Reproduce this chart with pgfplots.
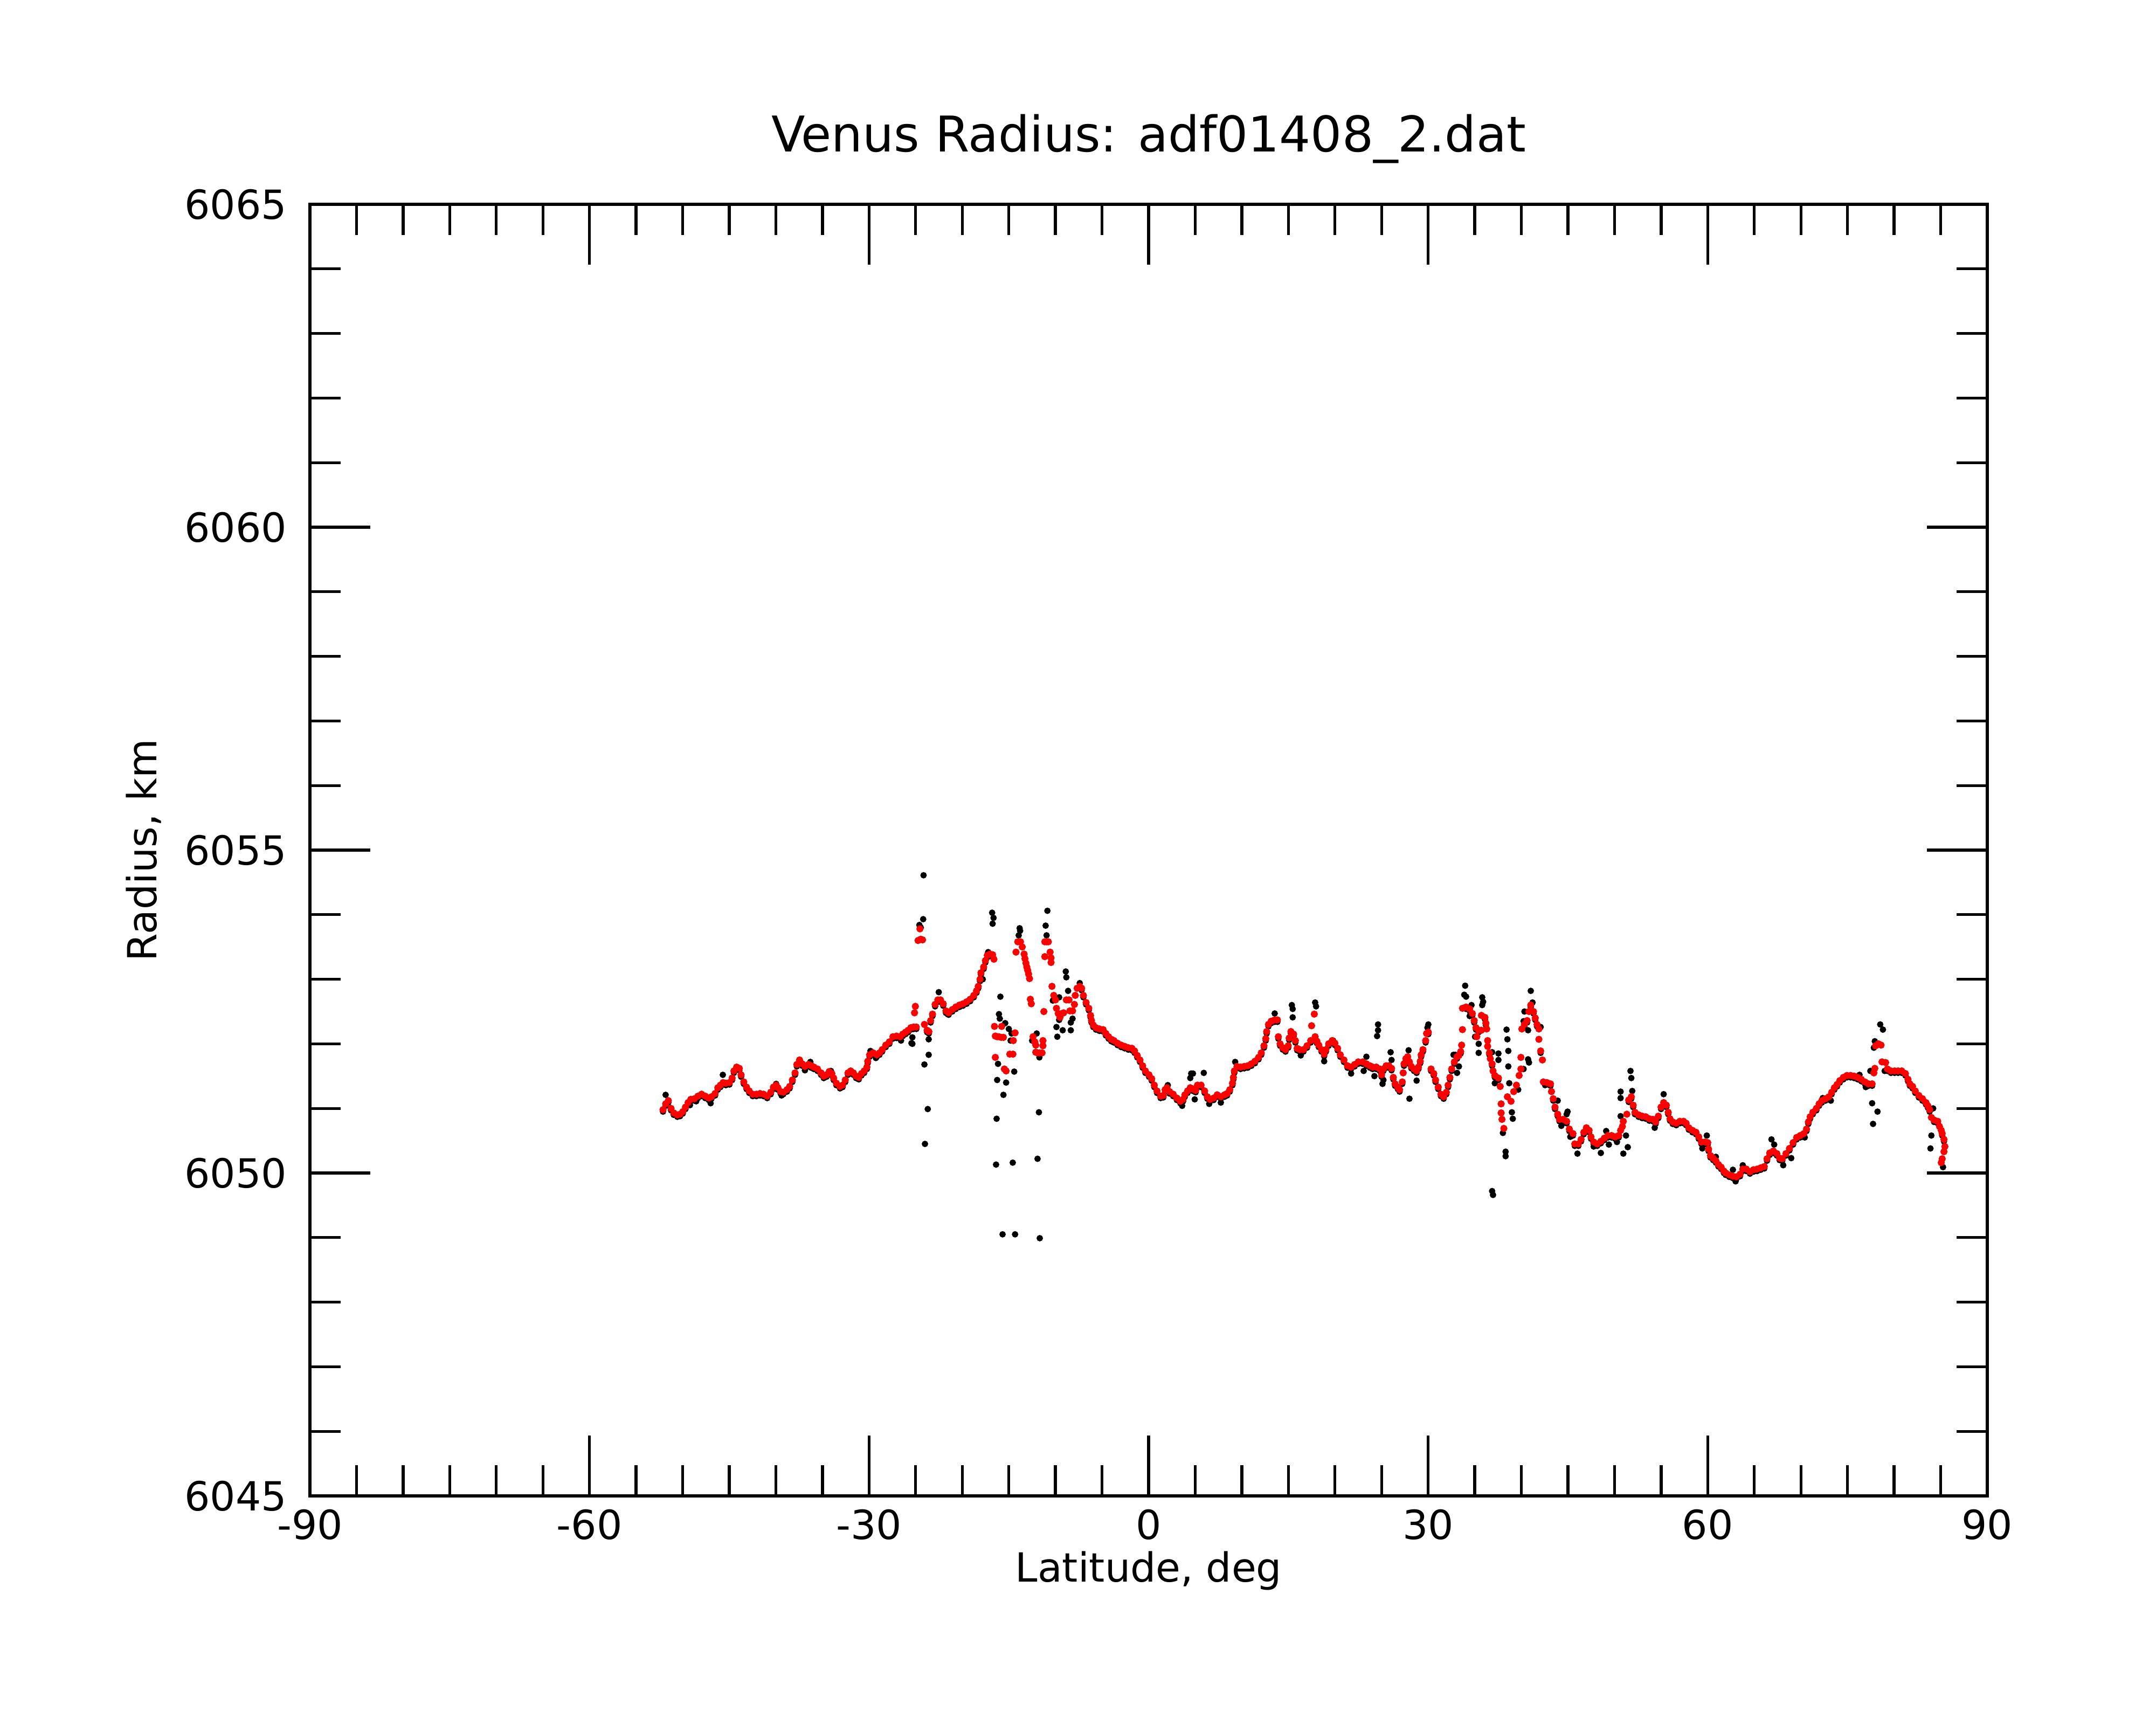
\documentclass[border=0pt]{standalone}
\usepackage{fontspec}
\setmainfont{DejaVu Sans}
\usepackage{pgfplots}
\pgfplotsset{compat=1.18}
\begin{document}
\begin{tikzpicture}
\useasboundingbox (-2.875,-2.125) rectangle (17.125,13.875);
\begin{axis}[
  at={(0,0)}, anchor=south west,
  width=15.56cm, height=11.98cm, scale only axis,
  xmin=-90, xmax=90, ymin=6045, ymax=6065,
  xtick={-90,-60,-30,0,30,60,90},
  xticklabels={-90,-60,-30,0,30,60,90},
  ytick={6045,6050,6055,6060,6065},
  yticklabels={6045,6050,6055,6060,6065},
  minor x tick num=5, minor y tick num=4,
  tick align=inside,
  major tick length=0.56cm, minor tick length=0.285cm,
  axis line style={line width=0.8pt, black},
  every tick/.style={black, line width=0.75pt},
  tick label style={font=\fontsize{10.6}{12}\selectfont},
  yticklabel style={xshift=-0.09cm},
]
\addplot[only marks, mark=*, mark size=0.64pt, black, mark options={draw=none, fill=black}] table[x=x,y=y] {
x y
-52.11 6050.95
-51.83 6051.04
-51.54 6051.09
-51.25 6050.97
-50.96 6050.90
-50.57 6050.87
-50.28 6050.88
-49.99 6050.92
-49.70 6050.99
-49.42 6051.06
-49.13 6051.11
-48.74 6051.12
-48.36 6051.16
-47.97 6051.19
-47.58 6051.16
-47.20 6051.13
-46.91 6051.15
-46.52 6051.20
-46.23 6051.29
-45.95 6051.33
-45.66 6051.37
-45.37 6051.36
-44.98 6051.37
-44.69 6051.44
-44.50 6051.55
-44.21 6051.61
-43.92 6051.59
-43.73 6051.49
-43.44 6051.38
-43.15 6051.30
-42.86 6051.24
-42.48 6051.19
-42.09 6051.19
-41.70 6051.20
-41.32 6051.19
-40.93 6051.16
-40.55 6051.22
-40.26 6051.30
-39.97 6051.33
-39.78 6051.29
-39.49 6051.23
-39.20 6051.22
-38.81 6051.26
-38.52 6051.31
-38.23 6051.41
-37.94 6051.52
-37.75 6051.65
-37.46 6051.72
-37.17 6051.66
-36.88 6051.62
-36.50 6051.65
-36.21 6051.63
-35.92 6051.61
-35.53 6051.58
-35.15 6051.52
-34.86 6051.47
-34.57 6051.49
-34.28 6051.54
-33.99 6051.51
-33.80 6051.44
-33.51 6051.36
-33.12 6051.31
-32.84 6051.33
-32.55 6051.41
-32.26 6051.52
-31.97 6051.55
-31.68 6051.52
-31.39 6051.47
-31.10 6051.45
-30.81 6051.51
-30.52 6051.55
-30.23 6051.61
-30.14 6051.70
-29.94 6051.80
-29.56 6051.83
-29.17 6051.80
-28.88 6051.83
-28.59 6051.88
-28.21 6051.95
-27.82 6052.00
-27.44 6052.08
-27.05 6052.09
-26.67 6052.08
-26.38 6052.12
-26.09 6052.15
-25.80 6052.18
-25.51 6052.22
-25.22 6052.23
-24.93 6052.23
-23.77 6052.18
-23.58 6052.16
-23.39 6052.33
-23.19 6052.43
-22.91 6052.58
-22.62 6052.65
-22.33 6052.65
-22.04 6052.59
-21.75 6052.48
-21.46 6052.45
-21.07 6052.50
-20.69 6052.54
-20.30 6052.57
-19.92 6052.59
-19.53 6052.62
-19.15 6052.66
-18.76 6052.72
-18.47 6052.79
-18.28 6052.86
-18.09 6052.97
-17.99 6053.07
-17.70 6053.16
-17.51 6053.26
-17.31 6053.34
-17.02 6053.36
-16.74 6053.35
-7.39 6052.86
-7.19 6052.83
-7.00 6052.72
-6.71 6052.61
-6.42 6052.52
-6.23 6052.41
-6.13 6052.33
-5.94 6052.26
-5.65 6052.22
-5.27 6052.20
-4.88 6052.19
-4.59 6052.13
-4.30 6052.08
-4.01 6052.04
-3.72 6052.02
-3.34 6051.98
-2.95 6051.95
-2.57 6051.93
-2.18 6051.91
-1.79 6051.90
-1.51 6051.86
-1.22 6051.79
-0.93 6051.72
-0.64 6051.63
-0.35 6051.55
0.04 6051.49
0.33 6051.43
0.61 6051.33
0.90 6051.24
1.29 6051.16
1.58 6051.17
1.77 6051.26
1.96 6051.29
2.25 6051.23
2.64 6051.19
3.03 6051.13
3.41 6051.08
3.70 6051.11
3.89 6051.18
4.18 6051.24
4.47 6051.29
4.76 6051.27
5.05 6051.25
5.24 6051.33
5.63 6051.33
6.01 6051.24
6.30 6051.15
6.59 6051.11
6.98 6051.13
7.36 6051.18
7.75 6051.15
8.14 6051.18
8.42 6051.20
8.71 6051.26
9.00 6051.36
9.10 6051.45
9.20 6051.55
9.48 6051.62
9.87 6051.61
10.26 6051.62
10.64 6051.63
11.03 6051.66
11.41 6051.70
11.80 6051.76
12.09 6051.83
12.38 6051.94
12.57 6052.05
12.67 6052.16
12.86 6052.27
13.15 6052.32
13.53 6052.34
13.82 6052.34
13.92 6052.08
14.11 6051.97
14.40 6051.91
14.69 6051.88
14.98 6051.94
15.08 6052.06
15.27 6052.16
15.56 6052.12
15.75 6052.02
15.94 6051.90
16.23 6051.88
16.62 6051.88
17.00 6051.94
17.39 6052.02
17.87 6052.08
18.06 6052.01
18.26 6051.95
18.55 6051.88
18.84 6051.81
19.03 6051.88
19.32 6051.97
19.70 6052.02
19.99 6051.98
20.28 6051.90
20.57 6051.80
20.96 6051.72
21.34 6051.63
21.73 6051.61
22.11 6051.65
22.50 6051.69
22.98 6051.69
23.37 6051.66
23.75 6051.63
24.04 6051.61
24.43 6051.61
24.81 6051.58
25.00 6051.49
25.20 6051.58
25.49 6051.63
25.78 6051.63
26.07 6051.59
26.26 6051.45
26.45 6051.35
26.74 6051.30
26.93 6051.26
27.22 6051.38
27.41 6051.66
27.61 6051.74
27.80 6051.77
27.99 6051.69
28.19 6051.62
28.48 6051.58
28.76 6051.55
28.96 6051.61
29.15 6051.70
29.25 6051.80
29.44 6051.88
29.73 6052.02
30.02 6052.15
30.31 6051.58
30.60 6051.51
30.79 6051.41
31.08 6051.30
31.37 6051.19
31.66 6051.15
31.95 6051.22
32.14 6051.33
32.33 6051.45
32.52 6051.58
32.81 6051.69
33.10 6051.77
33.49 6051.85
34.07 6052.54
34.45 6052.51
34.74 6052.44
34.94 6052.33
35.13 6052.22
35.42 6052.18
36.09 6052.38
36.19 6052.29
36.57 6051.83
36.86 6051.66
37.15 6051.48
37.54 6051.44
40.33 6052.27
40.62 6052.33
41.01 6052.57
41.30 6052.47
41.49 6052.37
41.68 6052.27
42.07 6051.86
42.74 6051.37
43.13 6051.35
43.42 6051.12
43.61 6050.99
43.90 6050.88
44.09 6050.80
44.48 6050.80
44.86 6050.77
45.15 6050.65
45.54 6050.58
45.73 6050.42
46.12 6050.42
46.41 6050.49
46.70 6050.60
46.98 6050.67
47.27 6050.63
47.47 6050.53
47.76 6050.45
48.14 6050.42
48.53 6050.46
48.91 6050.51
49.30 6050.55
49.68 6050.55
50.07 6050.53
50.45 6050.55
51.52 6051.10
51.80 6051.15
52.00 6051.02
52.19 6050.91
52.58 6050.87
52.96 6050.85
53.35 6050.84
53.73 6050.81
54.12 6050.80
54.41 6050.76
54.70 6050.85
54.99 6050.99
55.27 6051.06
55.56 6051.02
55.76 6050.91
55.95 6050.81
56.24 6050.76
56.62 6050.74
57.01 6050.77
57.40 6050.77
57.68 6050.74
57.97 6050.67
58.36 6050.63
58.74 6050.60
59.03 6050.53
59.32 6050.45
59.71 6050.45
60.00 6050.44
60.09 6050.34
60.29 6050.24
60.58 6050.20
60.87 6050.16
61.15 6050.10
61.44 6050.06
61.73 6050.00
61.93 6049.97
62.31 6049.94
62.70 6049.92
63.08 6049.91
63.47 6049.95
63.76 6050.03
64.14 6050.03
64.53 6049.99
64.91 6050.02
65.30 6050.03
65.69 6050.05
66.07 6050.07
66.36 6050.19
66.65 6050.28
67.04 6050.31
67.42 6050.27
67.71 6050.20
68.00 6050.19
68.39 6050.27
68.77 6050.35
69.16 6050.44
69.54 6050.52
69.93 6050.55
70.31 6050.58
70.60 6050.65
70.80 6050.76
70.99 6050.84
71.28 6050.91
71.66 6050.97
71.95 6051.04
72.24 6051.09
72.63 6051.12
73.01 6051.15
73.30 6051.22
73.59 6051.29
73.88 6051.34
74.17 6051.40
74.55 6051.45
74.94 6051.48
75.33 6051.48
75.71 6051.47
76.10 6051.45
76.48 6051.42
76.87 6051.38
77.25 6051.35
77.64 6051.35
79.28 6051.58
79.66 6051.55
80.05 6051.55
80.43 6051.55
80.82 6051.55
81.21 6051.51
81.49 6051.42
81.69 6051.35
81.98 6051.31
82.27 6051.24
82.65 6051.17
83.04 6051.12
83.42 6051.06
83.62 6051.01
83.81 6050.95
84.29 6050.79
84.68 6050.77
85.16 6050.58
85.35 6050.49
-51.83 6051.21
-47.00 6051.08
-45.69 6051.52
-49.22 6051.05
-48.55 6051.11
-39.97 6051.38
-39.39 6051.20
-36.88 6051.59
-36.30 6051.72
-34.09 6051.58
-29.85 6051.89
-29.27 6051.78
-26.57 6052.05
-25.45 6052.01
-25.35 6052.00
-25.35 6052.10
-24.15 6054.61
-24.19 6053.93
-24.60 6053.84
-24.45 6053.80
-24.06 6051.68
-23.60 6051.83
-23.60 6052.07
-23.70 6050.99
-24.00 6050.45
-22.52 6052.80
-21.56 6052.46
-17.80 6053.00
-17.22 6053.42
-16.79 6054.03
-16.64 6053.95
-16.74 6053.86
-15.91 6052.73
-16.06 6052.46
-15.97 6052.39
-15.39 6052.32
-15.00 6052.23
-14.71 6052.16
-14.81 6052.05
-16.16 6051.69
-14.42 6051.57
-16.25 6051.44
-15.29 6051.40
-15.58 6051.21
-16.31 6050.84
-16.37 6050.13
-14.58 6050.16
-15.67 6049.05
-14.33 6049.05
-11.68 6048.99
-11.92 6050.22
-11.77 6050.94
-13.84 6053.79
-13.79 6053.75
-13.94 6053.68
-10.86 6054.06
-11.05 6053.83
-10.95 6053.68
-8.89 6053.12
-8.83 6053.03
-9.60 6052.72
-8.64 6052.82
-10.28 6052.67
-9.89 6052.26
-9.22 6052.21
-8.35 6052.21
-9.80 6052.11
-8.16 6052.39
-8.35 6052.33
-9.60 6052.37
-12.01 6052.16
-12.50 6052.05
-11.72 6051.79
-7.39 6052.94
2.06 6051.36
3.60 6051.04
4.57 6051.54
4.47 6051.47
4.76 6051.54
5.92 6051.55
7.75 6051.09
6.50 6051.07
4.95 6051.14
9.29 6051.72
13.53 6052.47
15.37 6052.60
15.46 6052.54
15.46 6052.41
17.87 6052.64
17.97 6052.58
16.33 6051.82
18.84 6051.73
19.80 6052.05
21.73 6051.54
23.08 6051.58
23.37 6051.80
24.23 6051.50
24.52 6052.12
24.62 6052.21
24.62 6052.30
25.10 6051.38
25.20 6051.44
25.97 6051.87
26.07 6051.75
27.90 6051.90
27.99 6051.15
28.76 6051.43
29.92 6052.25
30.02 6052.30
32.72 6051.83
33.30 6051.65
32.91 6051.83
33.10 6051.55
33.97 6052.90
33.87 6052.76
34.07 6052.73
34.65 6052.60
34.45 6052.43
35.80 6052.72
35.90 6052.65
35.80 6052.60
35.42 6052.00
35.42 6051.86
35.03 6052.11
36.86 6051.87
37.15 6051.39
37.54 6051.85
37.54 6051.75
38.41 6052.22
38.50 6052.07
38.60 6051.89
38.60 6051.65
38.70 6051.39
38.02 6050.62
38.31 6050.33
38.31 6050.26
36.86 6049.72
36.96 6049.66
38.98 6050.94
39.08 6050.84
39.66 6051.29
40.24 6051.61
40.72 6051.76
40.82 6051.71
40.33 6052.50
40.24 6052.35
41.01 6052.82
41.20 6052.64
40.72 6052.21
42.07 6052.26
42.55 6051.36
43.90 6051.12
44.29 6050.73
44.96 6050.95
44.86 6050.91
45.25 6050.56
46.02 6050.30
47.76 6050.41
48.53 6050.31
49.39 6050.44
49.10 6050.65
50.26 6050.48
50.65 6051.26
50.65 6051.16
50.65 6050.88
51.71 6051.58
51.80 6051.47
51.90 6051.27
50.94 6050.30
51.42 6050.40
51.23 6050.58
54.31 6050.70
55.27 6051.22
59.42 6050.38
59.90 6050.58
60.87 6050.25
62.70 6050.05
62.99 6049.87
63.76 6050.12
66.84 6050.52
67.13 6050.44
68.10 6050.12
68.96 6050.23
69.74 6050.56
70.41 6050.55
72.34 6051.16
73.21 6051.12
76.29 6051.52
76.96 6051.33
77.45 6051.58
77.64 6051.08
77.74 6050.76
78.22 6050.95
77.83 6051.94
77.93 6052.04
78.51 6052.30
78.80 6052.22
78.99 6051.58
83.90 6050.38
84.00 6050.58
84.19 6051.00
85.25 6050.09
};
\addplot[only marks, mark=*, mark size=0.74pt, red, mark options={draw=none, fill=red}] table[x=x,y=y] {
x y
-52.11 6050.98
-51.83 6051.07
-51.54 6051.12
-51.25 6051.00
-50.96 6050.93
-50.57 6050.90
-50.28 6050.91
-49.99 6050.95
-49.70 6051.02
-49.42 6051.09
-49.13 6051.14
-48.74 6051.15
-48.36 6051.19
-47.97 6051.22
-47.58 6051.19
-47.20 6051.16
-46.91 6051.18
-46.52 6051.23
-46.23 6051.32
-45.95 6051.36
-45.66 6051.40
-45.37 6051.39
-44.98 6051.40
-44.69 6051.47
-44.50 6051.58
-44.21 6051.64
-43.92 6051.62
-43.73 6051.52
-43.44 6051.41
-43.15 6051.33
-42.86 6051.27
-42.48 6051.22
-42.09 6051.22
-41.70 6051.23
-41.32 6051.22
-40.93 6051.19
-40.55 6051.25
-40.26 6051.33
-39.97 6051.36
-39.78 6051.32
-39.49 6051.26
-39.20 6051.25
-38.81 6051.29
-38.52 6051.34
-38.23 6051.44
-37.94 6051.55
-37.75 6051.68
-37.46 6051.75
-37.17 6051.69
-36.88 6051.65
-36.50 6051.68
-36.21 6051.66
-35.92 6051.64
-35.53 6051.61
-35.15 6051.55
-34.86 6051.50
-34.57 6051.52
-34.28 6051.57
-33.99 6051.54
-33.80 6051.47
-33.51 6051.39
-33.12 6051.34
-32.84 6051.36
-32.55 6051.44
-32.26 6051.55
-31.97 6051.58
-31.68 6051.55
-31.39 6051.50
-31.10 6051.48
-30.81 6051.54
-30.52 6051.58
-30.23 6051.64
-30.14 6051.73
-29.94 6051.83
-29.56 6051.86
-29.17 6051.83
-28.88 6051.86
-28.59 6051.91
-28.21 6051.98
-27.82 6052.03
-27.44 6052.11
-27.05 6052.12
-26.67 6052.11
-26.38 6052.15
-26.09 6052.18
-25.80 6052.21
-25.51 6052.25
-25.22 6052.26
-24.93 6052.26
-25.12 6052.48
-25.03 6052.58
-24.74 6053.60
-24.54 6053.78
-24.45 6053.62
-24.26 6053.61
-24.06 6052.30
-23.77 6052.21
-23.58 6052.19
-23.39 6052.36
-23.19 6052.46
-22.91 6052.61
-22.62 6052.68
-22.33 6052.68
-22.04 6052.62
-21.75 6052.51
-21.46 6052.48
-21.07 6052.53
-20.69 6052.57
-20.30 6052.60
-19.92 6052.62
-19.53 6052.65
-19.15 6052.69
-18.76 6052.75
-18.47 6052.82
-18.28 6052.89
-18.09 6053.00
-17.99 6053.10
-17.70 6053.19
-17.51 6053.29
-17.31 6053.37
-17.02 6053.39
-16.74 6053.38
-16.60 6053.31
-16.54 6052.27
-15.77 6052.27
-16.45 6052.12
-16.26 6052.11
-16.06 6052.11
-15.82 6052.10
-15.58 6052.10
-14.90 6051.84
-14.56 6051.84
-16.45 6051.79
-15.48 6051.61
-15.29 6051.58
-14.33 6052.17
-14.52 6052.05
-14.23 6053.42
-14.04 6053.58
-13.75 6053.58
-13.56 6053.50
-13.36 6053.39
-13.27 6053.32
-13.17 6053.25
-13.07 6053.19
-12.98 6053.14
-12.88 6053.08
-12.78 6053.01
-12.69 6052.69
-12.59 6052.62
-12.40 6052.11
-12.21 6052.03
-12.11 6051.98
-12.11 6051.87
-11.92 6051.86
-11.72 6051.86
-11.43 6051.86
-11.34 6052.05
-11.34 6051.97
-11.24 6052.50
-11.14 6053.58
-10.95 6053.58
-10.76 6053.58
-10.57 6053.42
-10.47 6053.33
-11.14 6053.35
-10.47 6053.26
-10.37 6052.89
-10.18 6052.75
-9.99 6052.68
-9.89 6052.55
-9.70 6052.47
-9.51 6052.41
-9.31 6052.47
-9.12 6052.48
-8.83 6052.68
-8.54 6052.68
-8.45 6052.51
-8.16 6052.51
-7.96 6052.61
-7.87 6052.75
-7.67 6052.86
-7.39 6052.89
-7.19 6052.86
-7.00 6052.75
-6.71 6052.64
-6.42 6052.55
-6.23 6052.44
-6.13 6052.36
-5.94 6052.29
-5.65 6052.25
-5.27 6052.23
-4.88 6052.22
-4.59 6052.16
-4.30 6052.11
-4.01 6052.07
-3.72 6052.05
-3.34 6052.01
-2.95 6051.98
-2.57 6051.96
-2.18 6051.94
-1.79 6051.93
-1.51 6051.89
-1.22 6051.82
-0.93 6051.75
-0.64 6051.66
-0.35 6051.58
0.04 6051.52
0.33 6051.46
0.61 6051.36
0.90 6051.27
1.29 6051.19
1.58 6051.20
1.77 6051.29
1.96 6051.32
2.25 6051.26
2.64 6051.22
3.03 6051.16
3.41 6051.11
3.70 6051.14
3.89 6051.21
4.18 6051.27
4.47 6051.32
4.76 6051.30
5.05 6051.28
5.24 6051.36
5.63 6051.36
6.01 6051.27
6.30 6051.18
6.59 6051.14
6.98 6051.16
7.36 6051.21
7.75 6051.18
8.14 6051.21
8.42 6051.23
8.71 6051.29
9.00 6051.39
9.10 6051.48
9.20 6051.58
9.48 6051.65
9.87 6051.64
10.26 6051.65
10.64 6051.66
11.03 6051.69
11.41 6051.73
11.80 6051.79
12.09 6051.86
12.38 6051.97
12.57 6052.08
12.67 6052.19
12.86 6052.30
13.15 6052.35
13.53 6052.37
13.82 6052.37
13.92 6052.11
14.11 6052.00
14.40 6051.94
14.69 6051.91
14.98 6051.97
15.08 6052.09
15.27 6052.19
15.56 6052.15
15.75 6052.05
15.94 6051.93
16.23 6051.91
16.62 6051.91
17.00 6051.97
17.39 6052.05
17.49 6052.28
17.78 6052.46
17.87 6052.11
18.06 6052.04
18.26 6051.98
18.55 6051.91
18.84 6051.84
19.03 6051.91
19.32 6052.00
19.70 6052.05
19.99 6052.01
20.28 6051.93
20.57 6051.83
20.96 6051.75
21.34 6051.66
21.73 6051.64
22.11 6051.68
22.50 6051.72
22.98 6051.72
23.37 6051.69
23.75 6051.66
24.04 6051.64
24.43 6051.64
24.81 6051.61
25.00 6051.52
25.20 6051.61
25.49 6051.66
25.78 6051.66
26.07 6051.62
26.26 6051.48
26.45 6051.38
26.74 6051.33
26.93 6051.29
27.22 6051.41
27.32 6051.55
27.41 6051.69
27.61 6051.77
27.80 6051.80
27.99 6051.72
28.19 6051.65
28.48 6051.61
28.76 6051.58
28.96 6051.64
29.15 6051.73
29.25 6051.83
29.44 6051.91
29.73 6052.05
29.83 6052.16
30.02 6052.18
30.31 6051.61
30.60 6051.54
30.79 6051.44
31.08 6051.33
31.37 6051.22
31.66 6051.18
31.95 6051.25
32.14 6051.36
32.33 6051.48
32.52 6051.61
32.81 6051.72
33.10 6051.80
33.30 6051.82
33.49 6051.88
33.59 6051.98
33.68 6052.22
33.68 6052.55
34.07 6052.57
34.45 6052.54
34.74 6052.47
34.94 6052.36
35.13 6052.25
35.42 6052.21
35.71 6052.21
35.22 6052.11
35.71 6052.44
36.09 6052.41
36.19 6052.32
36.28 6052.23
36.38 6052.05
36.38 6051.96
36.57 6051.86
36.67 6051.77
36.86 6051.69
36.96 6051.58
37.15 6051.51
37.54 6051.47
37.73 6051.34
37.83 6051.07
37.83 6050.93
37.92 6050.83
38.12 6050.69
38.50 6051.18
38.89 6051.11
39.18 6051.26
39.47 6051.36
39.76 6051.51
39.95 6051.61
39.95 6051.79
40.05 6052.23
40.33 6052.30
40.62 6052.36
40.82 6052.50
41.01 6052.60
41.30 6052.50
41.49 6052.40
41.68 6052.30
41.88 6052.23
41.88 6052.07
42.07 6051.89
42.26 6051.75
42.36 6051.41
42.74 6051.40
43.13 6051.38
43.23 6051.26
43.42 6051.15
43.61 6051.02
43.90 6050.91
44.09 6050.83
44.48 6050.83
44.86 6050.80
45.15 6050.68
45.54 6050.61
45.73 6050.45
46.12 6050.45
46.41 6050.52
46.70 6050.63
46.98 6050.70
47.27 6050.66
47.47 6050.56
47.76 6050.48
48.14 6050.45
48.53 6050.49
48.91 6050.54
49.30 6050.58
49.68 6050.58
50.07 6050.56
50.45 6050.58
50.65 6050.66
50.84 6050.72
50.94 6050.80
51.32 6050.91
51.52 6051.13
51.80 6051.18
52.00 6051.05
52.19 6050.94
52.58 6050.90
52.96 6050.88
53.35 6050.87
53.73 6050.84
54.12 6050.83
54.41 6050.79
54.70 6050.88
54.99 6051.02
55.27 6051.09
55.56 6051.05
55.76 6050.94
55.95 6050.84
56.24 6050.79
56.62 6050.77
57.01 6050.80
57.40 6050.80
57.68 6050.77
57.97 6050.70
58.36 6050.66
58.74 6050.63
59.03 6050.56
59.32 6050.48
59.71 6050.48
60.00 6050.47
60.09 6050.37
60.29 6050.27
60.58 6050.23
60.87 6050.19
61.15 6050.13
61.44 6050.09
61.73 6050.03
61.93 6050.00
62.31 6049.97
62.70 6049.95
63.08 6049.94
63.47 6049.98
63.76 6050.06
64.14 6050.06
64.53 6050.02
64.91 6050.05
65.30 6050.06
65.69 6050.08
66.07 6050.10
66.36 6050.22
66.65 6050.31
67.04 6050.34
67.42 6050.30
67.71 6050.23
68.00 6050.22
68.39 6050.30
68.77 6050.38
69.16 6050.47
69.54 6050.55
69.93 6050.58
70.31 6050.61
70.60 6050.68
70.80 6050.79
70.99 6050.87
71.28 6050.94
71.66 6051.00
71.95 6051.07
72.24 6051.12
72.63 6051.15
73.01 6051.18
73.30 6051.25
73.59 6051.32
73.88 6051.37
74.17 6051.43
74.55 6051.48
74.94 6051.51
75.33 6051.51
75.71 6051.50
76.10 6051.48
76.48 6051.45
76.87 6051.41
77.25 6051.38
77.64 6051.38
77.83 6051.55
77.93 6051.62
78.02 6051.97
78.31 6052.00
78.60 6051.98
78.70 6051.72
79.09 6051.71
79.28 6051.61
79.66 6051.58
80.05 6051.58
80.43 6051.58
80.82 6051.58
81.21 6051.54
81.49 6051.45
81.69 6051.38
81.98 6051.34
82.27 6051.27
82.65 6051.20
83.04 6051.15
83.42 6051.09
83.62 6051.04
83.81 6050.98
84.00 6050.86
84.29 6050.82
84.68 6050.80
84.87 6050.72
85.06 6050.66
85.16 6050.61
85.35 6050.52
85.45 6050.41
85.35 6050.33
85.16 6050.22
85.06 6050.16
};
\end{axis}
\node[anchor=base, font=\fontsize{13}{15}\selectfont] at (7.78,12.465) {Venus Radius: adf01408\_2.dat};
\node[anchor=base, font=\fontsize{10.6}{12}\selectfont] at (7.78,-0.80) {Latitude, deg};
\node[anchor=base, rotate=90, font=\fontsize{10.6}{12}\selectfont] at (-1.42,5.99) {Radius, km};
\end{tikzpicture}
\end{document}
